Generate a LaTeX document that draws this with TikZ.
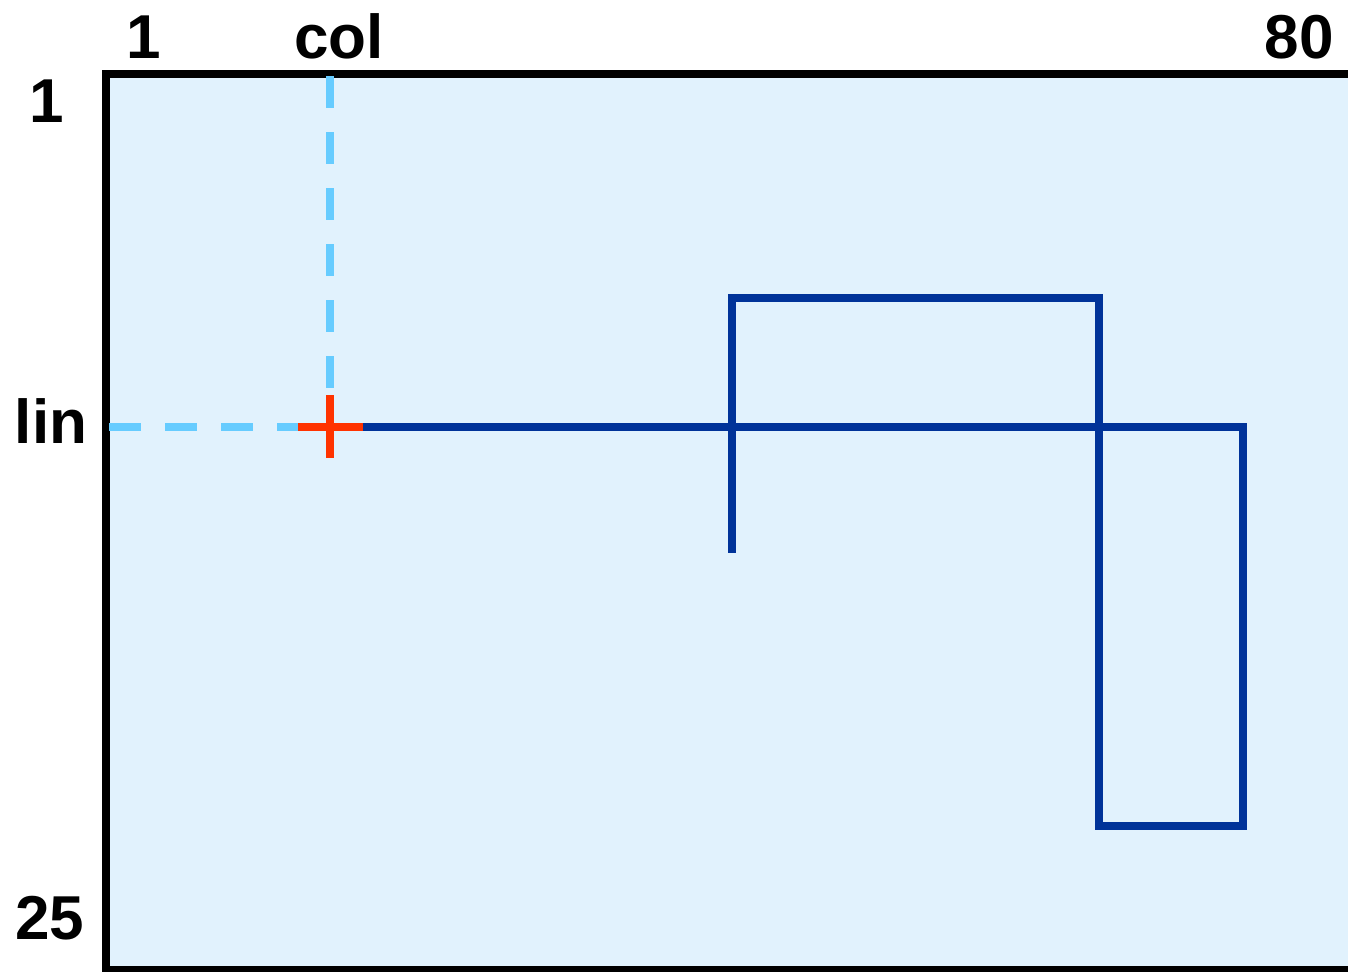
\documentclass[tikz,border=0pt]{standalone}
\usepackage{fontspec}
\setmainfont{Liberation Sans}
\definecolor{boxfill}{HTML}{E1F2FD}
\definecolor{guide}{HTML}{66CCFF}
\definecolor{cursor}{HTML}{FF3300}
\definecolor{route}{HTML}{003399}
\begin{document}
\begin{tikzpicture}[x=0.5pt,y=-0.5pt,
  lbl/.style={anchor=base,inner sep=0pt,font=\fontsize{31}{31}\selectfont\bfseries},
  guideline/.style={guide,line width=3.6pt,dash pattern=on 16pt off 12pt},
  cross/.style={cursor,line width=3.6pt},
  routeline/.style={route,line width=3.6pt,line join=miter}]
\useasboundingbox (0,0) rectangle (1348,971);
\begin{scope}
\clip (0,0) rectangle (1348,971);
\draw[fill=boxfill,line width=3.6pt] (106,74) rectangle (1360,970);
\end{scope}
% labels
\node[lbl] (c1) at (144,58) {1};
\node[lbl] (ccol) at (339,58) {col};
\node[lbl] (c80) at (1299,58) {80};
\node[lbl] (l1) at (47,122) {1};
\node[lbl] (llin) at (51,443) {lin};
\node[lbl] (l25) at (50,939) {25};
% coordinates
\coordinate (topc) at (330,76);
\coordinate (leftl) at (109,427);
\coordinate (cur) at (330,427);
\coordinate (ct) at (330,395);
\coordinate (cb) at (330,458);
\coordinate (cl) at (298,427);
\coordinate (cr) at (363,427);
\coordinate (p1) at (1243,427);
\coordinate (p2) at (1243,826);
\coordinate (p3) at (1099,826);
\coordinate (p4) at (1099,298);
\coordinate (p5) at (732,298);
\coordinate (p6) at (732,553);
% guides
\draw[guideline] (topc) -- (ct);
\draw[guideline] (leftl) -- (cl);
% route
\draw[routeline] (cr) -- (p1) -- (p2) -- (p3) -- (p4) -- (p5) -- (p6);
% cursor
\draw[cross] (cl) -- (cr);
\draw[cross] (ct) -- (cb);
\end{tikzpicture}
\end{document}
